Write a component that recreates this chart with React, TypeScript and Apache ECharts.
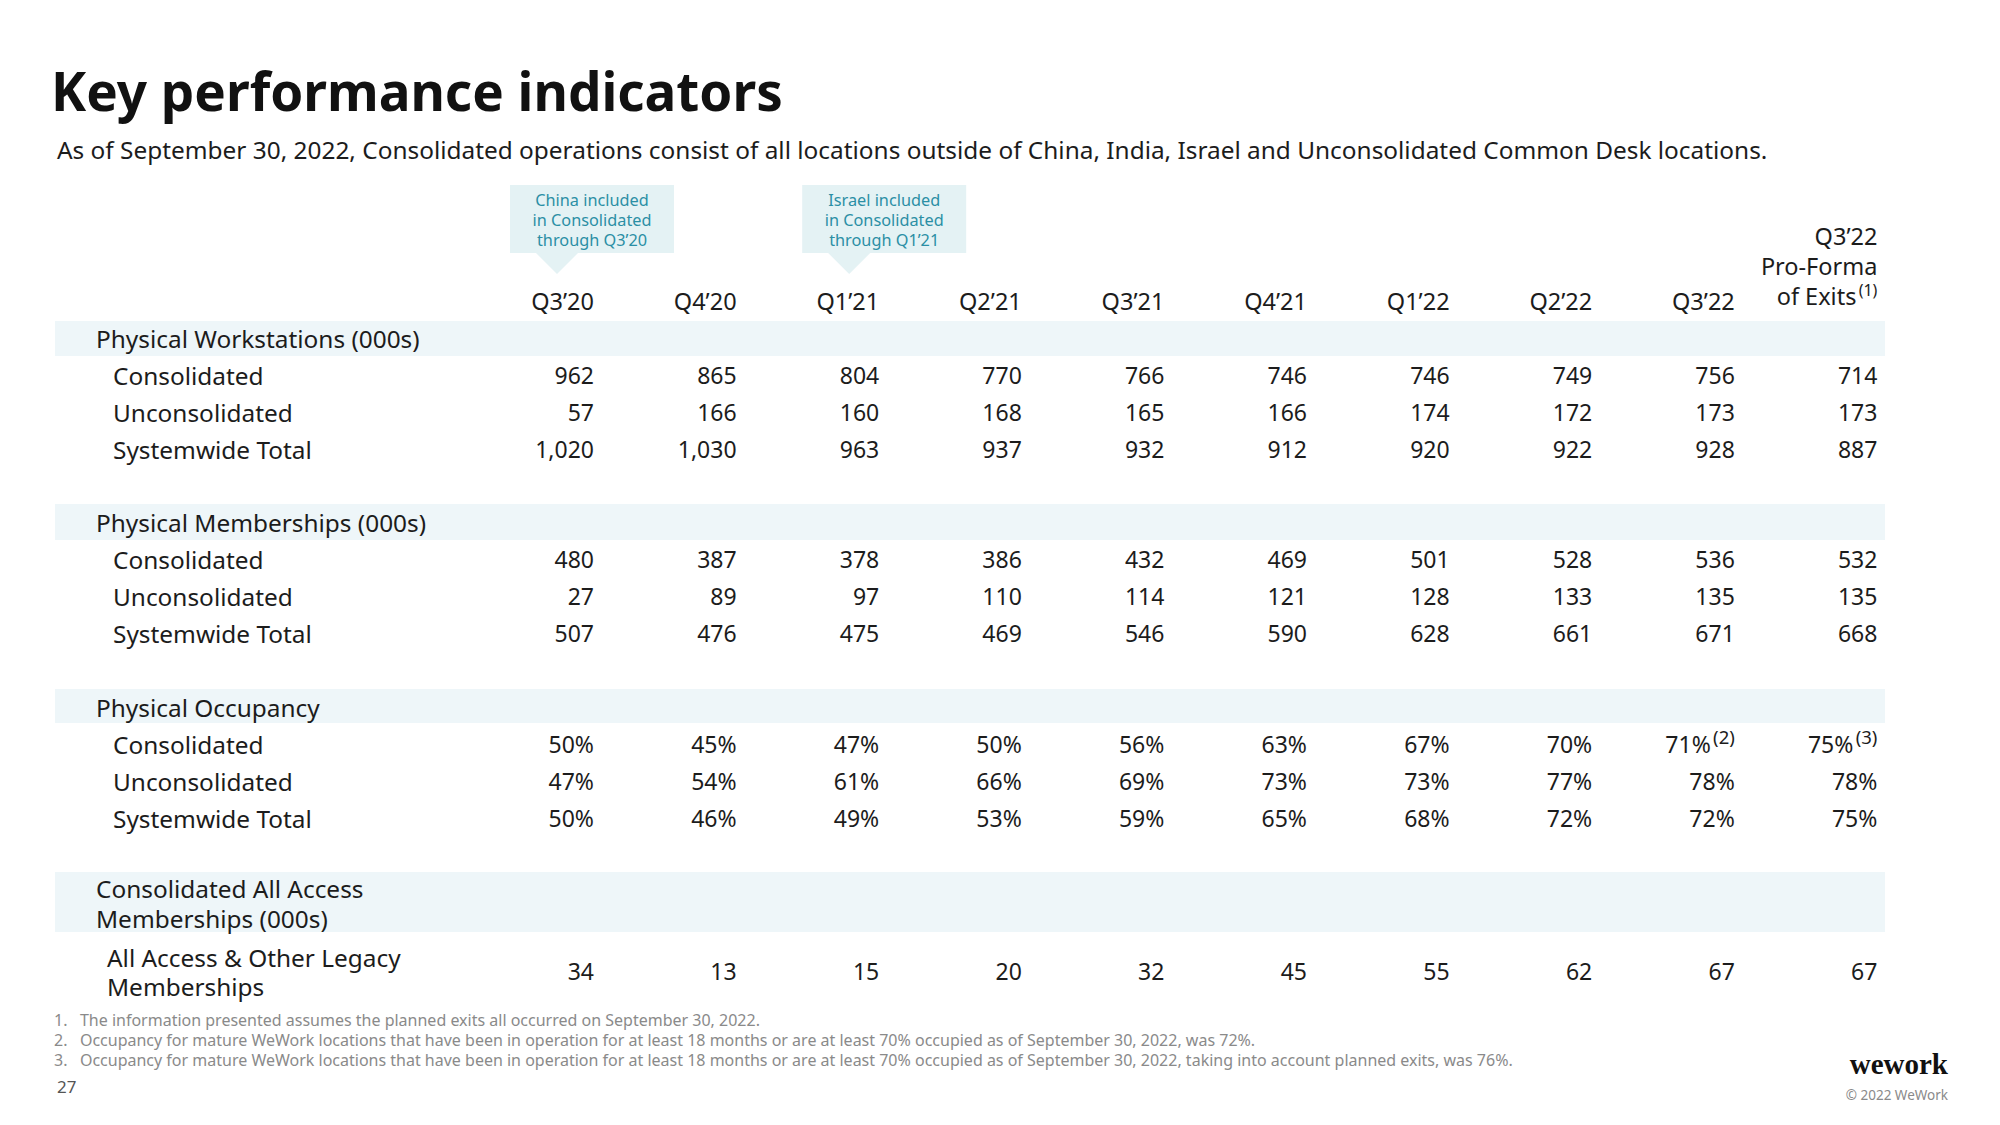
import React, { useEffect, useRef } from "react";
import * as echarts from "echarts";

const title = "Key performance indicators";
const subtitle =
  "As of September 30, 2022, Consolidated operations consist of all locations outside of China, India, Israel and Unconsolidated Common Desk locations.";
const columns = ["Q3’20", "Q4’20", "Q1’21", "Q2’21", "Q3’21", "Q4’21", "Q1’22", "Q2’22", "Q3’22"];
const proFormaHeader = ["Q3’22", "Pro-Forma", "of Exits"];
const callouts = [
  { col: 0, lines: ["China included", "in Consolidated", "through Q3’20"] },
  { col: 2, lines: ["Israel included", "in Consolidated", "through Q1’21"] },
];

const workstationsConsolidated = [962, 865, 804, 770, 766, 746, 746, 749, 756, 714];
const workstationsUnconsolidated = [57, 166, 160, 168, 165, 166, 174, 172, 173, 173];
const workstationsTotal = [1020, 1030, 963, 937, 932, 912, 920, 922, 928, 887];
const membershipsConsolidated = [480, 387, 378, 386, 432, 469, 501, 528, 536, 532];
const membershipsUnconsolidated = [27, 89, 97, 110, 114, 121, 128, 133, 135, 135];
const membershipsTotal = [507, 476, 475, 469, 546, 590, 628, 661, 671, 668];
const occupancyConsolidated = [50, 45, 47, 50, 56, 63, 67, 70, 71, 75];
const occupancyUnconsolidated = [47, 54, 61, 66, 69, 73, 73, 77, 78, 78];
const occupancyTotal = [50, 46, 49, 53, 59, 65, 68, 72, 72, 75];
const allAccessMemberships = [34, 13, 15, 20, 32, 45, 55, 62, 67, 67];
const occupancyNotes = ["", "", "", "", "", "", "", "", "(2)", "(3)"];

const footnotes = [
  "1.   The information presented assumes the planned exits all occurred on September 30, 2022.",
  "2.   Occupancy for mature WeWork locations that have been in operation for at least 18 months or are at least 70% occupied as of September 30, 2022, was 72%.",
  "3.   Occupancy for mature WeWork locations that have been in operation for at least 18 months or are at least 70% occupied as of September 30, 2022, taking into account planned exits, was 76%.",
];

const FONT = "'Noto Sans', sans-serif";
const INK = "#1c1c1c";
const BAND = "#eef6f9";
const LABEL_SIZE = 24.4;

export default function App() {
  const ref = useRef<HTMLDivElement>(null);
  useEffect(() => {
    document.body.style.margin = "0";
    const chart = echarts.init(ref.current!, null, { renderer: "svg" });
    const colRight = (i: number) => 594 + i * 142.6;
    const fmt = (v: number) => v.toLocaleString("en-US");
    const pct = (v: number) => v + "%";
    const els: any[] = [];
    const txt = (x: number, y: number, text: string, o: any = {}) =>
      els.push({
        type: "text",
        x,
        y,
        style: {
          text,
          fontFamily: FONT,
          fontSize: 23,
          fill: INK,
          align: "left",
          verticalAlign: "middle",
          ...o,
        },
      });

    txt(51, 90, title, { fontSize: 53, fontWeight: "bold", fill: "#111" });
    txt(57, 149, subtitle, { fontSize: 24.4 });

    callouts.forEach((c) => {
      const left = colRight(c.col) - 84 + c.col * 3.5;
      const tip = left + 47;
      els.push({ type: "rect", shape: { x: left, y: 185, width: 164, height: 68 }, style: { fill: "#e4f2f4" } });
      els.push({
        type: "polygon",
        shape: { points: [[tip - 21, 253], [tip + 21, 253], [tip, 274]] },
        style: { fill: "#e4f2f4" },
      });
      c.lines.forEach((l, k) =>
        txt(left + 82, 200 + k * 20, l, { align: "center", fontSize: 16.3, fill: "#2b8fa5" })
      );
    });

    columns.forEach((c, i) => txt(colRight(i), 301, c, { align: "right", fontSize: 23.5 }));
    proFormaHeader.forEach((c, k) =>
      txt(colRight(9) - (k === 2 ? 21 : 0), 236 + k * 30, c, { align: "right", fontSize: 23.5 })
    );
    txt(colRight(9), 290, "(1)", { align: "right", fontSize: 16 });

    const sections = [
      {
        head: ["Physical Workstations (000s)"],
        band: [321, 356],
        headY: [338],
        rows: [
          { label: ["Consolidated"], y: 375, data: workstationsConsolidated, f: fmt },
          { label: ["Unconsolidated"], y: 412, data: workstationsUnconsolidated, f: fmt },
          { label: ["Systemwide Total"], y: 449, data: workstationsTotal, f: fmt },
        ],
      },
      {
        head: ["Physical Memberships (000s)"],
        band: [504, 540],
        headY: [522],
        rows: [
          { label: ["Consolidated"], y: 559, data: membershipsConsolidated, f: fmt },
          { label: ["Unconsolidated"], y: 596, data: membershipsUnconsolidated, f: fmt },
          { label: ["Systemwide Total"], y: 633, data: membershipsTotal, f: fmt },
        ],
      },
      {
        head: ["Physical Occupancy"],
        band: [689, 723],
        headY: [707],
        rows: [
          { label: ["Consolidated"], y: 744, data: occupancyConsolidated, f: pct, notes: occupancyNotes },
          { label: ["Unconsolidated"], y: 781, data: occupancyUnconsolidated, f: pct },
          { label: ["Systemwide Total"], y: 818, data: occupancyTotal, f: pct },
        ],
      },
      {
        head: ["Consolidated All Access", "Memberships (000s)"],
        band: [872, 932],
        headY: [888, 918],
        rows: [
          {
            label: ["All Access & Other Legacy", "Memberships"],
            labelX: 107,
            labelY: [957, 986],
            y: 971,
            data: allAccessMemberships,
            f: fmt,
          },
        ],
      },
    ];

    sections.forEach((s: any) => {
      els.push({
        type: "rect",
        shape: { x: 55, y: s.band[0], width: 1830, height: s.band[1] - s.band[0] },
        style: { fill: BAND },
      });
      s.head.forEach((h: string, k: number) => txt(96, s.headY[k], h, { fontSize: LABEL_SIZE }));
      s.rows.forEach((r: any) => {
        r.label.forEach((l: string, k: number) =>
          txt(r.labelX ?? 113, r.labelY ? r.labelY[k] : r.y, l, { fontSize: LABEL_SIZE })
        );
        r.data.forEach((v: number, i: number) => {
          const note = r.notes ? r.notes[i] : "";
          const right = colRight(i);
          if (note) {
            txt(right, r.y - 8, note, { align: "right", fontSize: 18.5 });
            txt(right - 24, r.y, r.f(v), { align: "right" });
          } else {
            txt(right, r.y, r.f(v), { align: "right" });
          }
        });
      });
    });

    footnotes.forEach((f, k) =>
      txt(54, 1020 + k * 20, f, { fontSize: 16, fill: "#8a8a8a" })
    );
    txt(57, 1086, "27", { fontSize: 17, fill: "#555" });
    txt(1948, 1064, "wework", {
      align: "right",
      fontSize: 29,
      fontWeight: "bold",
      fontFamily: "'Liberation Serif', serif",
      fill: "#111",
    });
    txt(1948, 1095, "© 2022 WeWork", { align: "right", fontSize: 13.5, fill: "#8a8a8a" });

    chart.setOption({ animation: false, graphic: { elements: els } });
    return () => chart.dispose();
  }, []);
  return <div ref={ref} style={{ width: 2000, height: 1125, background: "#fff" }} />;
}
